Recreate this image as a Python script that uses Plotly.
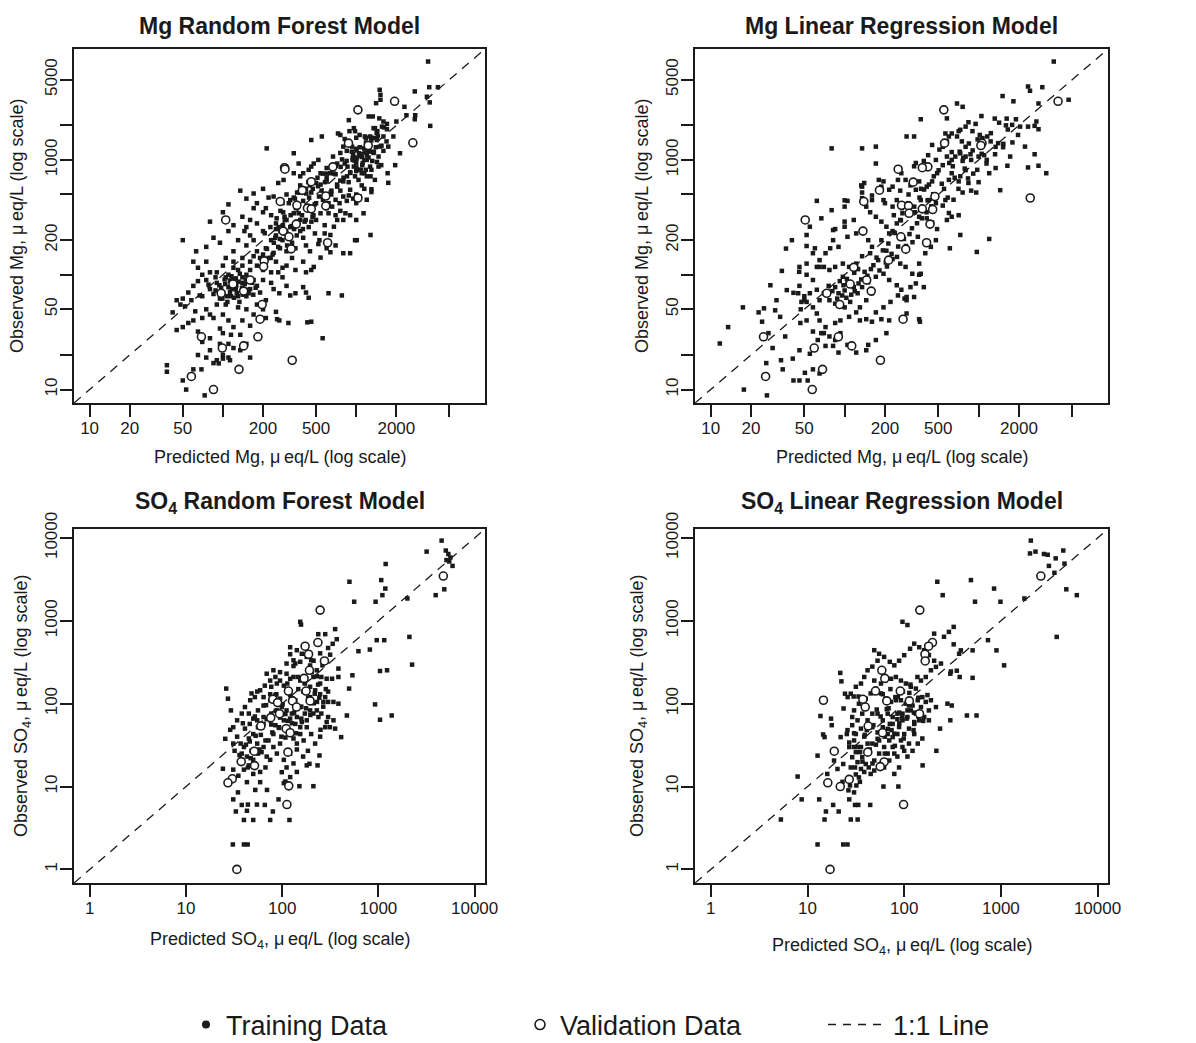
import plotly.graph_objects as go

# ---------------- DATA (µeq/L) ----------------
# Mg Random Forest: training (predicted, observed)
mg_rf_train = [
    (3460,7190),(3530,4300),(4100,4300),(2750,3950),(1500,4080),(1520,3690),
    (3390,3550),(3560,3170),(1410,3120),(1520,3340),(2300,2900),(2380,2450),(2770,2450),
    (1240,2390),(1330,2390),(1490,2300),(2750,2260),(880,2220),(1600,2160),(2000,2160),(1700,2060),
    (3590,1980),(1560,1950),(960,1890),(1350,1890),(1700,1850),(1440,1780),(890,1780),(980,1780),
    (730,1700),(760,1650),(1060,1650),(1160,1600),(1270,1600),(1380,1550),(1600,1600),(1900,1600),
    (552,1600),(460,1490),(1430,1490),(820,1520),(1000,1560),
    (800,1306),(930,1306),(1500,1306),(1740,1306),(1050,1143),(1100,1060),(1200,1100),(1200,1000),
    (1470,1070),(2130,1143),(940,1000),(1000,1050),(1070,1100),(670,1070),(340,1143),(213,1260),
    (850,1200),(1250,1200),(1350,1150),(1000,1250),(1150,1000),(760,1150),(1600,1200),
    (1960,900),(1430,960),(720,930),(860,875),(960,875),(1110,900),(1270,875),(1470,875),(1540,900),
    (1720,766),(1280,720),(1380,670),(1100,766),(1150,766),(1200,720),(980,720),(1040,670),(760,660),
    (800,650),(540,766),(640,766),(600,850),(480,930),(520,1000),(440,820),(460,875),(340,766),
    (370,930),(400,766),(380,720),(1000,800),(900,780),(1050,820),(1300,820),(1180,820),(600,700),
    (700,750),(820,930),(1000,940),(1740,632),(285,669),
    (720,585),(760,540),(900,550),(880,490),(1300,525),(1300,555),(500,630),(540,610),(260,630),
    (320,447),(340,470),(380,600),(420,560),(460,520),(580,470),(650,500),(700,450),(1060,480),
    (850,440),(1150,560),(1000,500),(800,480),(950,460),(620,420),(300,500),(240,480),(200,560),
    (220,470),(170,510),(180,420),(280,420),(360,520),(500,420),(750,420),(1000,420),(1200,450),
    (135,540),(110,410),(150,460),(400,440),(550,540),(450,600),(600,650),(1100,600),
    (340,343),(370,343),(290,320),(300,300),(380,300),(410,290),(470,320),(540,343),(500,300),
    (620,343),(660,392),(720,300),(680,262),(830,343),(800,300),(1135,343),(200,350),(230,330),
    (160,300),(180,280),(250,280),(270,360),(140,320),(120,270),(100,350),(80,290),(210,380),
    (430,380),(440,260),(580,270),(170,380),(320,260),(150,260),(250,250),(600,380),(700,330),
    (900,330),(1000,300),(760,360),
    (580,229),(640,222),(490,229),(530,200),(520,185),(1280,222),(1010,200),(980,200),(640,157),
    (900,154),(800,154),(300,229),(250,220),(200,240),(230,200),(280,200),(330,190),(400,210),
    (420,180),(350,170),(260,175),(210,170),(180,160),(150,180),(130,200),(120,160),(160,220),
    (110,240),(95,190),(75,175),(63,160),(200,150),(450,160),(300,160),(240,155),(170,200),
    (145,240),(85,210),(50,200),(270,240),(380,240),(600,170),(700,180),
    (540,141),(480,117),(460,110),(140,140),(160,130),(180,120),(200,110),(220,140),(250,130),
    (280,115),(300,120),(350,110),(400,130),(120,130),(100,120),(90,105),(110,100),(130,110),
    (150,100),(170,145),(75,130),(65,115),(80,105),(260,105),(330,140),(230,105),(190,140),
    (140,120),(160,110),(120,115),(105,140),(420,105),(60,130),(70,100),
    (620,69),(780,66),(400,78),(420,70),(440,63),(320,66),(350,69),(265,69),(230,85),(200,90),
    (180,80),(160,75),(140,85),(120,90),(110,78),(100,70),(90,85),(80,75),(70,65),(60,80),
    (55,70),(50,62),(45,60),(130,65),(150,65),(170,90),(190,70),(210,60),(115,65),(95,62),
    (75,90),(65,88),(140,95),(105,95),(85,68),(125,75),(160,92),(240,75),(280,95),(300,80),
    (48,55),(42,47),(52,53),(58,60),(67,66),
    (460,39),(430,38.5),(250,47.5),(255,41),(265,40),(310,38),(200,50),(170,45),(150,50),
    (130,52),(110,40),(100,45),(90,55),(80,45),(70,42),(60,40),(55,38),(50,35),(62,48),
    (75,50),(120,35),(140,40),(95,34),(85,42),(105,55),(180,55),(210,42),(65,32),(45,33),
    (100,31),(115,30),(135,30),(160,36),
    (560,28),(95,25),(110,25),(80,22),(100,20),(90,18),(60,15),(38,16.3),(38,14.3),(50,12),
    (53,10),(73,8.9),(120,23),(135,22),(160,19),(80,28),(70,26),(150,25),(110,19),(75,19),
    (85,17),(65,20),(93,16.9),(100,18.6),(113,18),(69,15),
    # dense core clumps
    (104,83),(113,89),(117,75),(126,81),(131,87),(139,77),(146,83),(151,74),(156,69),(127,69),
    (121,63),(107,65),(97,77),(103,91),(116,97),(134,102),(149,91),(166,85),(176,77),(169,67),
    (113,71),(125,93),(141,67),(94,81),(88,73),(108,58),(99,62),(133,58),(88,95),(78,82),
    (206,230),(214,168),(227,260),(241,190),(253,310),(268,205),(283,350),(298,240),(312,420),
    (327,265),(347,460),(363,290),(372,520),(392,330),(404,560),(418,300),(437,640),(449,380),
    (472,560),(488,410),(512,700),(526,480),(478,330),(443,470),(398,250),(353,380),(318,210),
    (291,300),(262,260),(236,150),(422,510),(461,290),(517,590),(563,450),(602,760),(643,520),
    (583,640),(358,220),(322,330),(303,180),(268,170),(247,210),(228,140),(282,270),(342,250),
    (682,760),(718,610),(764,870),(803,700),(847,980),(903,770),(948,1120),(1003,860),(1063,1290),
    (1118,940),(1183,1420),(1237,1050),(1302,1560),(1357,1180),(1423,1720),(878,640),(942,1040),
    (1004,1210),(1082,820),(1157,1160),(1252,1380),(1318,980),(1403,1290),(783,1010),(853,720),
    (927,1180),(1004,1020),(1083,1120),(1147,1260),(1223,1330),(1297,1480),(1383,1890),(703,890),
    (652,540),(563,760),(1183,1560),(1263,1180),(1453,1620),(1547,1330),(1618,1920),(1688,1450),
]
# Mg Random Forest: validation
mg_rf_val_pred = [1030,1940,2660,875,1230,668,290,292,460,394,591,1030,269,359,591,431,460,105,283,
                  355,313,610,325,204,202,160,119,143,97,197,190,69,183,99,143,331,132,58,85]
mg_rf_val_obs = [2730,3240,1410,1400,1335,870,855,830,646,543,485,466,435,403,398,380,375,300,240,
                 276,214,190,168,132,118,90,83,72,69,55,41,28.8,28.8,23,24,18,15,13,10]

# Mg Linear Regression: training (predicted, observed)
mg_lr_train = [
    (3640,7190),(2340,4360),(2420,4000),(2990,4300),(1510,3600),(1820,3240),(4700,3340),
    (2800,3100),(690,3100),(760,2900),(580,2300),(370,2260),(1050,2410),(1320,2290),(1620,2290),
    (1900,2260),(1600,2000),(1780,2020),(2040,1950),(2340,1950),(2620,1980),(2700,2160),
    (2800,1850),(1970,1650),(840,2130),(950,2060),(800,1950),(730,1830),(900,1780),(1020,1650),
    (1070,1550),(1160,1600),(1230,1450),(1400,1400),(1340,1300),(1530,1380),(710,1780),(690,1600),
    (630,1700),(600,1600),(565,1700),(580,1450),(510,1230),(450,1350),(540,1300),(290,1600),
    (330,1600),(750,1450),(800,1300),(630,1170),(670,1070),(730,1140),(800,1070),(870,1120),
    (1000,1070),(1100,1100),(1150,1000),(880,1000),(760,980),(630,1000),(580,1070),(540,900),
    (480,1000),(420,1100),(390,980),(340,940),(330,880),
    (1200,766),(1340,850),(1640,890),(1720,1070),(2220,1306),(2620,1120),(2340,860),(2800,890),
    (3200,766),(1450,545),(960,520),(1000,640),(1200,205),(970,158),
    (800,815),(730,720),(630,766),(600,670),(710,650),(840,630),(880,540),(760,520),(650,450),
    (565,447),(540,400),(600,345),(580,300),(630,320),(710,330),(730,222),(610,170),
    (490,766),(450,650),(410,585),(360,650),(340,550),(310,600),(285,670),(265,766),(250,670),
    (228,585),(215,550),(260,540),(300,500),(370,447),(425,447),(480,420),(390,370),(360,320),
    (410,310),(450,285),(490,250),(480,200),(440,175),(400,154),(360,125),(370,102),(390,78),
    (280,62),(290,46),(365,39),
    (195,650),(180,530),(160,490),(145,392),(155,350),(171,320),(188,290),(205,262),(215,229),
    (228,240),(245,280),(260,300),(270,343),(228,392),(200,420),(245,447),(140,630),(135,585),
    (171,1306),(80,1260),(135,1260),(171,930),(180,670),(188,585),(135,520),(195,447),(135,465),
    (160,447),(133,600),
    (105,440),(100,392),(117,300),(100,262),(85,250),(82,200),(78,170),(72,154),(90,175),
    (105,214),(122,229),(135,245),(150,200),(160,175),(188,200),(205,162),(228,137),(260,125),
    (285,117),(320,102),(360,100),(178,134),(155,154),(135,145),(122,125),(108,117),(97,125),
    (85,117),(77,110),(70,117),(62,117),(65,134),(58,154),(52,125),(46,117),
    (97,96),(105,84),(117,78),(100,73),(90,69),(85,78),(77,60),(85,56),(100,52),(110,58),
    (125,69),(135,78),(150,86),(171,96),(195,102),(215,90),(245,81),(265,74),(290,64),(160,69),
    (145,60),(130,52),(122,47),(108,43),(93,40),(85,38),(72,35),(65,40),(62,46),(58,52),
    (65,60),(70,69),(62,74),(55,69),(50,60),(47,50),(52,40),(58,32),(67,31),(77,29),(82,24),
    (90,21),(105,24.5),(122,21),(145,22),(150,24.5),(171,27),(205,31),(215,40),(188,41),
    (160,39),(145,41),(130,40),(171,47),(195,52),(220,58),(250,66),(310,78),(340,84),(330,64),
    (360,41),(290,60),
    (70,31),(63,27),(55,20.5),(58,15),(53,12),(46,12),(65,13.8),(72,24),(85,27),(93,31),
    (11.7,25.2),(13.5,35),(17.4,52),(17.7,10),(22.8,47),(24.2,39),(25,51),(26.3,8.9),(27.9,81),
    (27,31),(26,17),(29,23),(30.3,49),(31,60),(33.5,18),(34.5,15),(34,108),(36.5,169),(40.4,200),
    (41.5,12),(41,18.6),(37,73.5),(41.5,69.6),(45.8,106),(47.6,58),(46.7,38),(50.5,14),(33,43),
    (36,29),(46,22),(52,178),(62,440),(67,310),(80,365),(100,445),(100,290),(82,245),(55,262),
    (52,222),(60,170),(65,117),(52,100),(58,90),(46,80),(45,69),(50,65),(52,58),
    # dense core clumps
    (92,88),(98,81),(104,92),(111,86),(96,66),(103,63),(112,67),(119,72),(127,84),(133,91),
    (88,62),(94,56),(81,72),(76,80),(118,104),(126,112),(141,106),(148,98),(157,112),(164,121),
    (173,141),(182,109),(193,163),(203,128),(212,187),(224,152),(237,231),(251,176),(263,298),
    (277,205),(294,339),(305,226),(318,254),(331,392),(347,281),(362,470),(377,310),(392,552),
    (409,350),(426,610),(444,395),(463,720),(207,118),(246,143),(287,178),(321,192),(352,214),
    (233,330),(268,380),(297,420),(334,350),(372,560),(416,445),(458,503),(503,812),(552,560),
    (604,940),(663,700),(722,1180),(788,840),(846,1390),(912,760),(983,1510),(1054,1130),
    (531,620),(588,470),(642,880),(708,560),(768,1040),(834,690),(903,1210),(977,820),(1062,1480),
    (1146,930),(1234,1710),(1327,1120),(1423,2110),(1524,1290),(1652,1840),(1788,1420),
]
# Mg Linear Regression: validation
mg_lr_val_pred = [550,3920,2430,557,1060,1040,418,380,251,325,182,472,139,266,300,380,454,303,50.8,
                  434,137,263,409,286,213,117,146,110,158,73.6,91.8,273,24.8,89.8,59.3,113,185,68.4,25.7,57.3]
mg_lr_val_obs = [2730,3240,466,1400,1400,1335,870,855,830,640,545,480,435,403,398,375,370,343,300,
                 276,240,214,190,167,134,116,90,83,72,69,55,41,28.8,28.8,23,24,18,15,13,10]

# SO4 Random Forest: training (predicted, observed)
so4_rf_train = [
    (4540,9290),(3170,6840),(5020,7050),(5330,6400),(5600,5800),(5100,5400),(5900,4600),(5450,5200),
    (1190,4850),(500,2960),(1070,3100),(1180,2450),(1100,2040),(560,1700),(935,1700),(2000,1860),
    (3940,2040),(4840,2400),(2100,640),(2240,296),(620,430),(815,450),(960,584),(1150,584),
    (1040,248),(1230,253),(923,98),(1040,64),(1375,72),(537,220),(496,152),(470,72),(410,39.5),
    (154,973),(157,900),(355,794),(237,690),(280,690),(369,600),(335,528),(300,470),(121,395),
    (131,334),(137,305),(195,289),(248,405),(315,390),(229,214),(255,210),(290,200),(330,200),
    (384,265),(384,210),(195,120),(230,105),(268,105),(300,105),(341,105),(384,100),(238,69),
    (290,60),(250,48.4),(313,52),(355,50),(244,23.7),(233,18),(192,18.8),(211,10.1),(151,10.1),
    (119,3.95),(75,3.95),(50,3.95),(40,3.95),(43,5.1),(33,5),(44,6.06),(54.6,6.06),(66,6),(38,6),
    (31,7),(91.6,7),(80,5),(30.7,2),(40,2),(43.8,2),(34.7,8.5),(43,11.3),(52.5,9.1),(59,11.3),
    (69.5,9.1),(99,14.9),(104,11),(24.2,16.4),(25.6,37.7),(26.2,152),(27.3,115),(29.3,83),(28.8,48.4),
    (31,52),(34,40),(37,33),(32,27),(40,30),(45,38),(50,43),(56,52),(64,57),(69,65),(77,76),
    (88,83),(99,91),(111,83),(126,76),(142,69),(160,60),(180,52),(200,43),(104,63),(92,52),
    (81,43),(72,36),(64,30),(56,25),(50,21),(45,18),(40,16),(35,13.5),(31,16),(81,30),(95,33),
    (108,39),(121,43),(131,38),(142,33),(88,25),(75,21),(67,17),(59,15),(50,14.2),(69,23),
    (104,21),(121,25),(142,28),(167,36),(154,43),(180,63),(211,76),(154,91),(137,110),(121,127),
    (111,145),(104,165),(95,190),(85,210),(75,190),(66,165),(59,145),(52,120),(46.5,110),(48,133),
    (45,76),(50,66),(56,83),(64,95),(75,110),(85,127),(95,115),(75,130),(64,120),(69,230),
    (81,253),(95,240),(111,230),(131,210),(154,190),(172,175),(195,160),(220,145),(248,130),
    (280,120),(300,140),(248,175),(211,210),(229,253),(200,335),(180,367),(160,400),(142,442),
    (121,480),(131,285),(111,305),(154,320),(121,200),(88,175),(77,160),(55,140),(41,91),(38,76),
    (34,63),(31,33),(38,25),(43,23),(48,27),(55,33),(61,26),(41,50),(46,57),(55,63),(64,69),
    (75,63),(85,55),(95,68),(108,75),(121,66),(137,57),(154,52),(172,76),(195,83),(229,83),
    (255,76),(300,69),(341,63),(280,52),(248,40),(220,33),(185,27),(165,23),(131,19),(111,17),
    (180,18),(142,15),(121,13),(108,11.5),
    # dense core clumps
    (42,32),(47,22),(53,41),(58,28),(62,52),(67,36),(72,66),(79,45),(86,82),(93,51),(101,98),
    (114,62),(123,122),(133,78),(147,150),(158,92),(171,182),(186,118),(203,240),(218,132),
    (236,170),(262,290),(284,150),(212,330),(188,260),(166,140),(146,210),(128,115),(113,175),
    (99,74),(87,130),(77,56),(68,96),(60,42),(52,70),(46,35),(39,58),(36,24),(44,17),(52,26),
    (98,40),(113,48),(126,58),(139,44),(158,66),(177,88),(196,73),(213,101),(243,118),(267,92),
]
# SO4 Random Forest: validation
so4_rf_val_pred = [4730,248,235,173,188,275,192,169,116,177,80,89.5,128,195,141,93.8,76,60,110,121,
                   51.2,114.6,37.5,51.6,30.3,27.3,117,112,33.8]
so4_rf_val_obs = [3470,1346,547,494,395,328,253,202,142,142,113,103,108,108,91,75.7,67.7,53.7,49.9,
                  44.6,26.7,26,20,17.9,12.4,11.1,10.2,6.06,1]

# SO4 Linear Regression: training (predicted, observed)
so4_lr_train = [
    (2040,9290),(2000,6500),(2280,6840),(2790,6400),(3050,6270),(3690,5670),(4420,7050),(3140,4600),
    (4550,4900),(3580,3800),(4750,2400),(6100,2040),(3780,640),(1750,1860),(490,3100),(850,2450),
    (990,1700),(540,1700),(220,2960),(250,2040),(735,584),(900,440),(1080,290),(510,440),(510,205),
    (350,250),(375,210),(445,72),(560,72),(300,63),(280,100),(310,95),(235,50),(215,27),(155,18),
    (325,520),(385,440),(300,230),
    (5.3,4),(7.9,13.2),(8.7,7),(12.7,23.6),(13.2,7),(12.7,2),(13.6,71),(14.5,42.5),(15,4),(15.5,5),
    (17.5,66),(17.8,55),(18.4,6),(21,5),(21.8,235),(22.4,186),(22,39.5),(23.4,18.7),(23.4,2),(25.9,2),
    (27,7),(28,4),(31,6),(33,4),(26.5,9),(33.5,6),(44.5,6),(24.4,132),(26,120),(30,122),(33.7,122),
    (23.6,87.5),(29,69),(25.5,43),(30.3,44),(18.8,20.6),(20.4,16.3),(16,14.2),(23,11.4),(27.5,10.3),
    (32,10.3),(34.8,11.4),(30.3,8.5),(61,10),(87,10),(15,39.5),
    (25.9,48),(29,55),(31.6,43),(35.7,50),(38.6,40),(41.8,33),(35.7,30),(31.6,26),(29,22.6),
    (32.9,19.7),(36.8,22.6),(41.8,27.3),(46.8,33),(53,37.7),(60,43.4),(67.5,49.7),(76,57),(85,65),
    (96,75.8),(108,83),(122,95),(138,110),(154,120),(174,127),(88.5,52.3),(79,43.4),(70,36),(62,30),
    (55,25),(49,20.6),(43,17),(38.6,15),(34,12.9),(62,17),(70,20.6),(79,25),(76,30),(67.5,25),
    (92.5,36),(100,43),(112,50),(127,57),(143,63),(161,69),(180,63),(127,43),(112,33),(100,27),
    (85,23),(46.8,75.8),(41.8,63),(36.8,75.8),(32.9,63),(30.3,83),(34,100),(40,115),(45,133),
    (51,152),(57.5,175),(64,190),(73,200),(82,210),(92.5,190),(104,175),(117,160),(132,152),
    (149,190),(167,210),(189,253),(213,278),(240,305),(204,330),(180,385),(161,442),(143,480),
    (127,530),(115,460),(100,385),(88.5,330),(79,290),(71,320),(62,367),(55,400),(49,442),(53,330),
    (46.8,280),(41.8,253),(38.6,210),(35.7,175),(31.6,160),(28,132),(49,190),(57.5,133),(64,115),
    (73,105),(82,110),(92.5,110),(104,100),(117,83),(132,75.8),(149,91),(167,105),(189,110),
    (213,91),(180,83),(108,69),(96,63),(85,75.8),(76,69),(67.5,75.8),(60,63),(53,75.8),(46.8,52),
    (53,45),(60,52),(67.5,43),(76,39.5),(85,43),(96,30),(108,23),(122,27),(138,33),(154,38),
    (30.3,36),(27,30),(30.3,30),(28,17),(31.6,14),(35.7,16.3),(40,18.7),(45,14.2),(49,15.6),
    (79,14.2),(88.5,17),(258,642),(290,735),(325,845),(370,400),(204,700),(96,973),(108,890),
    (304,245),
    # dense core clumps
    (33,30),(37,20),(39,42),(44,28),(48,55),(51,32),(57,70),(63,40),(69,88),(74,48),(81,120),
    (89,58),(97,140),(106,66),(116,170),(126,78),(137,210),(27,34),(31,17),(35,26),(41,48),
    (47,19),(55,36),(63,25),(71,57),(80,31),(89,78),(99,38),(112,95),(125,48),(140,118),(157,62),
    (60,130),(66,86),(72,150),(86,120),(95,68),(113,135),(127,60),(140,70),(52,85),(58,46),
]
# SO4 Linear Regression: validation
so4_lr_val_pred = [2590,145,196,179,164,165,58.7,63,50.5,91,37.4,39.5,66,113,14.6,144,42.4,59.7,
                   42,18.9,62,56.5,16.2,27,21.8,98.5,17.1]
so4_lr_val_obs = [3470,1346,547,494,395,328,253,202,142,142,113,91,108,108,110,75.7,53.7,44.6,
                  26,26.7,19.8,17.4,11.1,12.2,10,6.06,1]

# tick values: labelled major ticks and unlabelled (minor) ticks, as in the reference
mg_x_labelled = [10, 20, 50, 200, 500, 2000]
mg_x_unlabelled = [100, 1000, 5000]
mg_y_labelled = [10, 50, 200, 1000, 5000]
mg_y_unlabelled = [20, 100, 500, 2000]
so4_labelled = [1, 10, 100, 1000, 10000]

titles = ["<b>Mg Random Forest Model</b>", "<b>Mg Linear Regression Model</b>",
          "<b>SO<sub>4</sub> Random Forest Model</b>", "<b>SO<sub>4</sub> Linear Regression Model</b>"]
xlabels = ["Predicted Mg, \u03bc\u2009eq/L (log scale)", "Predicted Mg, \u03bc\u2009eq/L (log scale)",
           "Predicted SO<sub>4</sub>, \u03bc\u2009eq/L (log scale)", "Predicted SO<sub>4</sub>, \u03bc\u2009eq/L (log scale)"]
ylabels = ["Observed Mg, \u03bc\u2009eq/L (log scale)", "Observed Mg, \u03bc\u2009eq/L (log scale)",
           "Observed SO<sub>4</sub>, \u03bc\u2009eq/L (log scale)", "Observed SO<sub>4</sub>, \u03bc\u2009eq/L (log scale)"]

# ---------------- LAYOUT ----------------
W, H = 1196, 1043
FONT = "Liberation Sans, Arial, Helvetica, sans-serif"
INK = "#1a1a1a"
boxes = [(74, 485, 49, 403), (695, 1108, 49, 403), (74, 485, 529, 883), (695, 1108, 529, 883)]
mg_range = [0.883, 3.966]
so4_range = [-0.164, 4.108]
title_y = [26, 26, 503, 503]
xlab_y = [457, 457, 940, 946]
ylab_x = [17, 642, 22, 638]

panels = [
    (mg_rf_train, mg_rf_val_pred, mg_rf_val_obs, mg_range,
     mg_x_labelled, mg_x_unlabelled, mg_y_labelled, mg_y_unlabelled),
    (mg_lr_train, mg_lr_val_pred, mg_lr_val_obs, mg_range,
     mg_x_labelled, mg_x_unlabelled, mg_y_labelled, mg_y_unlabelled),
    (so4_rf_train, so4_rf_val_pred, so4_rf_val_obs, so4_range, so4_labelled, [], so4_labelled, []),
    (so4_lr_train, so4_lr_val_pred, so4_lr_val_obs, so4_range, so4_labelled, [], so4_labelled, []),
]

fig = go.Figure()
annotations = []
for i, (train, vp, vo, rng, xl, xu, yl, yu) in enumerate(panels):
    n = "" if i == 0 else str(i + 1)
    xa, ya = "x" + n, "y" + n
    lo, hi = 10 ** rng[0], 10 ** rng[1]
    fig.add_trace(go.Scatter(x=[lo, hi], y=[lo, hi], mode="lines", xaxis=xa, yaxis=ya,
                             line=dict(color=INK, width=1.3, dash="9px,7px"),
                             showlegend=False, hoverinfo="skip"))
    fig.add_trace(go.Scatter(x=[p[0] for p in train], y=[p[1] for p in train], mode="markers",
                             xaxis=xa, yaxis=ya, showlegend=False,
                             marker=dict(symbol="square", size=4.5, color=INK, line=dict(width=0))))
    fig.add_trace(go.Scatter(x=vp, y=vo, mode="markers", xaxis=xa, yaxis=ya, showlegend=False,
                             marker=dict(symbol="circle", size=8, color="white",
                                         line=dict(color=INK, width=1.6))))
    x0, x1, y0, y1 = boxes[i]

    def axis(vals, minor_vals, dom, anchor, **kw):
        d = dict(type="log", range=rng, showgrid=False, zeroline=False, showline=True,
                 linecolor=INK, linewidth=1.6, mirror=True, ticks="outside", automargin=False,
                 ticklen=12, tickwidth=1.6, tickcolor=INK, tickmode="array",
                 tickvals=vals, ticktext=[str(v) for v in vals],
                 tickfont=dict(family=FONT, size=17, color=INK),
                 domain=dom, anchor=anchor, **kw)
        if minor_vals:
            d["minor"] = dict(tickmode="array", tickvals=minor_vals, ticks="outside",
                              ticklen=12, tickwidth=1.6, tickcolor=INK, showgrid=False)
        return d

    fig.update_layout(**{
        "xaxis" + n: axis(xl, xu, [x0 / W, x1 / W], ya),
        "yaxis" + n: axis(yl, yu, [1 - y1 / H, 1 - y0 / H], xa, tickangle=-90),
    })
    # pull the tick labels slightly toward the box, as in the reference
    try:
        fig.update_layout(**{"xaxis" + n: dict(ticklabelstandoff=-3),
                             "yaxis" + n: dict(ticklabelstandoff=-4)})
    except Exception:
        pass
    cx = (x0 + x1) / 2
    cy = (y0 + y1) / 2
    annotations.append(dict(text=titles[i], x=cx / W, y=1 - title_y[i] / H, xref="paper", yref="paper",
                            xanchor="center", yanchor="middle", showarrow=False,
                            font=dict(family=FONT, size=23, color=INK)))
    annotations.append(dict(text=xlabels[i], x=cx / W, y=1 - xlab_y[i] / H, xref="paper", yref="paper",
                            xanchor="center", yanchor="middle", showarrow=False,
                            font=dict(family=FONT, size=18, color=INK)))
    annotations.append(dict(text=ylabels[i], x=ylab_x[i] / W, y=1 - cy / H, xref="paper", yref="paper",
                            xanchor="center", yanchor="middle", showarrow=False, textangle=-90,
                            font=dict(family=FONT, size=18, color=INK)))

# legend entries (one legend box each, laid out in a row as in the reference)
fig.add_trace(go.Scatter(x=[None], y=[None], mode="markers", name="Training Data", legend="legend",
                         marker=dict(symbol="circle", size=8, color=INK)))
fig.add_trace(go.Scatter(x=[None], y=[None], mode="markers", name="Validation Data", legend="legend2",
                         marker=dict(symbol="circle", size=10, color="white",
                                     line=dict(color=INK, width=1.6))))
fig.add_trace(go.Scatter(x=[None], y=[None], mode="lines", name="1:1 Line", legend="legend3",
                         line=dict(color=INK, width=1.5, dash="8px,7px")))

leg_common = dict(orientation="h", xanchor="left", yanchor="middle", y=1 - 1025 / H,
                  bgcolor="rgba(0,0,0,0)", font=dict(family=FONT, size=27, color=INK),
                  itemsizing="trace")
fig.update_layout(
    width=W, height=H, margin=dict(l=0, r=0, t=0, b=0, autoexpand=False),
    paper_bgcolor="white", plot_bgcolor="white",
    annotations=annotations,
    showlegend=True,
    legend=dict(leg_common, x=186 / W),
    legend2=dict(leg_common, x=520 / W),
    legend3=dict(leg_common, x=823 / W, itemwidth=60),
)

fig.write_html("out.html", config={"displayModeBar": False},
               post_script="document.body.style.margin='0px';")
